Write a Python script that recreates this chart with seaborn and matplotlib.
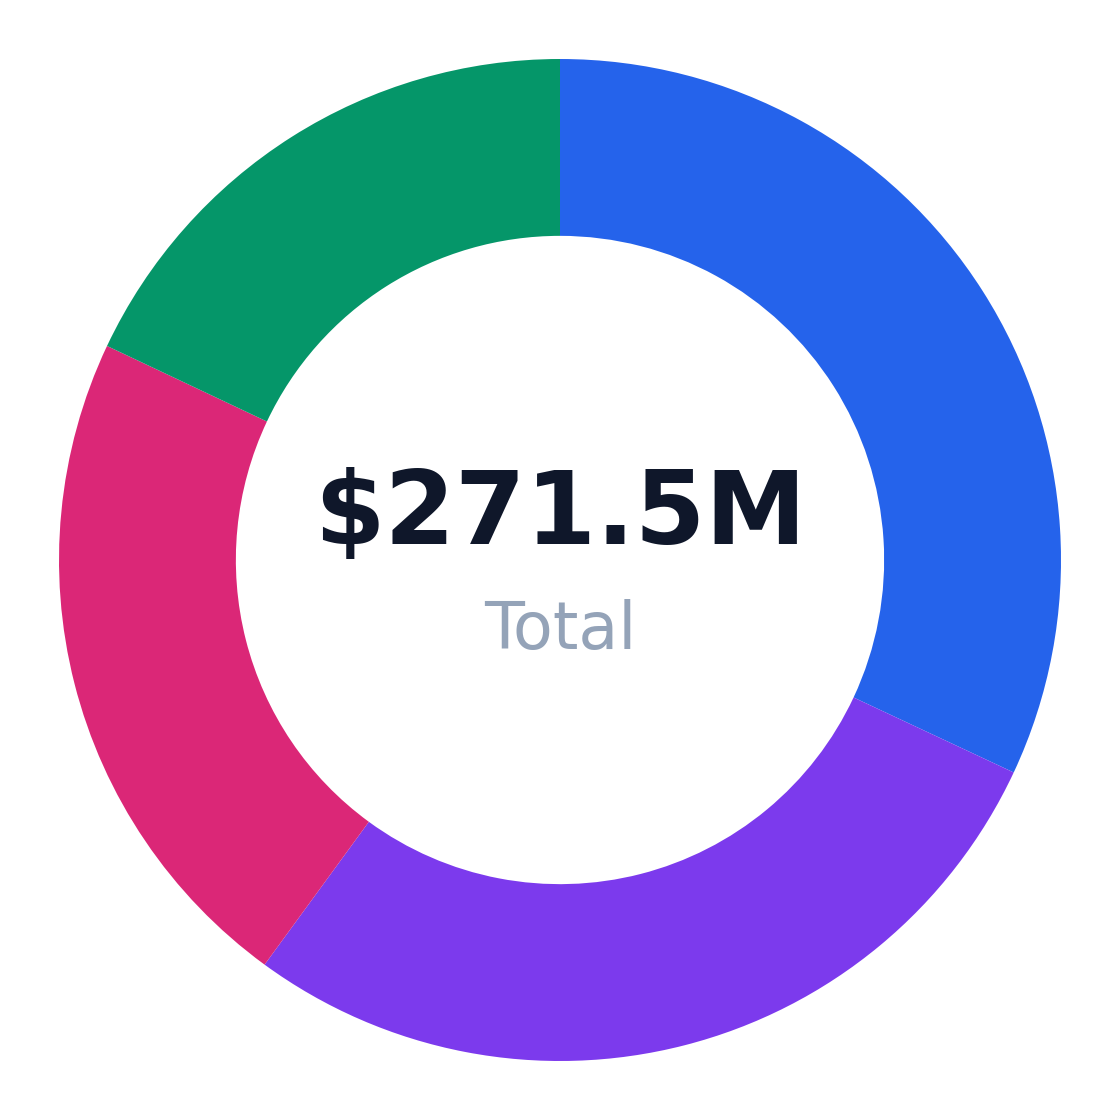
import seaborn as sns
import matplotlib.pyplot as plt

# segment values, $M
labels = ["Blue", "Purple", "Magenta", "Green"]
values = [86.8, 76.2, 59.7, 48.8]
colors = ["#2563eb", "#7c3aed", "#db2777", "#059669"]

total_text = "$271.5M"
sub_text = "Total"

sns.set_theme(style="white")
plt.rcParams['font.family'] = ['DejaVu Sans']

fig = plt.figure(figsize=(11.2, 11.2), dpi=100)
ax = fig.add_axes([0, 0, 1, 1])

ax.pie(values, colors=colors, startangle=90, counterclock=False,
       radius=1.0, wedgeprops=dict(width=0.353, linewidth=0))

lim = 560 / 501
ax.set_xlim(-lim, lim)
ax.set_ylim(-lim, lim)
ax.set_aspect("equal")
ax.axis("off")

ax.text(0, 0.088, total_text, ha="center", va="center", fontsize=73,
        fontweight="bold", color="#0f172a")
ax.text(0, -0.142, sub_text, ha="center", va="center", fontsize=47,
        color="#94a3b8")

plt.savefig("out.png", dpi=100)
